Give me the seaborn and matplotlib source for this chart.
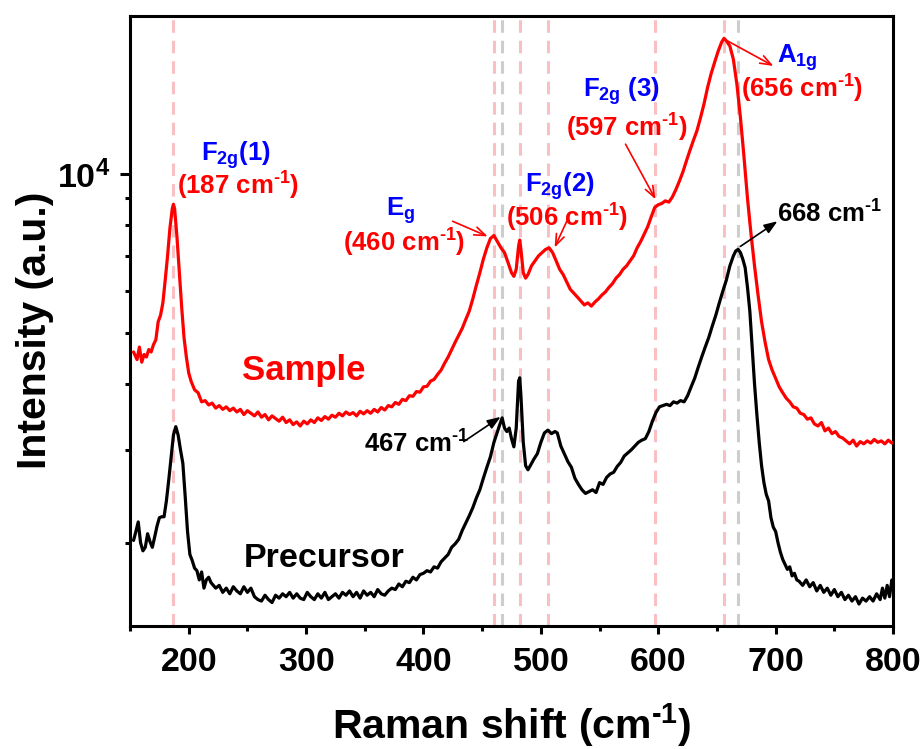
import matplotlib

matplotlib.use("Agg")

import matplotlib.pyplot as plt
import matplotlib.ticker as mticker
import pandas as pd
import seaborn as sns

# Sample spectrum (Raman shift in cm-1, intensity in a.u.)
sample_x = [
    153, 156, 158, 160, 162, 164, 166, 168, 170, 172, 174, 176, 178, 180, 182, 184, 186, 187, 188, 190,
    192, 194, 196, 198, 200, 202, 205, 208, 211, 214, 217, 220, 223, 226, 229, 232, 235, 238, 241, 244,
    247, 250, 253, 256, 259, 262, 265, 268, 271, 274, 277, 280, 283, 286, 289, 292, 295, 298, 301, 304,
    307, 310, 313, 316, 319, 322, 325, 328, 331, 334, 337, 340, 343, 346, 349, 352, 355, 358, 361, 364,
    367, 370, 373, 376, 379, 382, 385, 388, 391, 394, 397, 400, 403, 406, 409, 412, 415, 418, 421, 424,
    427, 430, 433, 436, 439, 442, 445, 448, 451, 454, 457, 460, 463, 466, 469, 472, 475, 477, 479, 481,
    482, 483, 485, 487, 489, 492, 495, 498, 501, 504, 507, 510, 513, 516, 519, 522, 525, 528, 531, 534,
    537, 540, 543, 546, 549, 552, 555, 558, 561, 564, 567, 570, 573, 576, 579, 582, 585, 588, 591, 594,
    597, 600, 603, 606, 609, 612, 615, 618, 621, 624, 627, 630, 633, 636, 639, 642, 645, 648, 651, 654,
    656, 658, 661, 664, 667, 670, 673, 676, 679, 682, 685, 688, 691, 694, 697, 700, 703, 706, 709, 712,
    715, 718, 721, 724, 727, 730, 733, 736, 739, 742, 745, 748, 751, 754, 757, 760, 763, 766, 769, 772,
    775, 778, 781, 784, 787, 790, 793, 796, 799, 800,
]
sample_y = [
    4600, 4450, 4700, 4400, 4550, 4500, 4650, 4600, 4750, 4850, 5250, 5400, 5700, 6300, 7000, 7900, 8600, 8770, 8600, 7600,
    6500, 5600, 4900, 4500, 4200, 4050, 3900, 3850, 3700, 3720, 3650, 3680, 3600, 3640, 3580, 3620, 3560, 3600, 3540, 3580,
    3500, 3560, 3520, 3480, 3540, 3460, 3500, 3420, 3480, 3440, 3400, 3460, 3380, 3420, 3350, 3390, 3330, 3400, 3360, 3420,
    3380, 3450, 3410, 3470, 3430, 3490, 3460, 3520, 3480, 3540, 3500, 3530, 3480, 3550, 3510, 3560, 3520, 3580, 3540, 3610,
    3570, 3640, 3620, 3690, 3660, 3740, 3720, 3800, 3790, 3870, 3860, 3950, 3960, 4050, 4080, 4170, 4250, 4380, 4500, 4650,
    4800, 4950, 5100, 5300, 5500, 5800, 6150, 6500, 6900, 7250, 7550, 7650, 7450, 7250, 7100, 6800, 6500, 6400, 6600, 7300,
    7500, 7200, 6500, 6350, 6450, 6700, 6850, 7000, 7100, 7200, 7250, 7100, 6850, 6600, 6450, 6250, 6050, 5950, 5850, 5750,
    5650, 5700, 5620, 5720, 5800, 5900, 5980, 6100, 6200, 6350, 6450, 6600, 6700, 6850, 7000, 7250, 7450, 7700, 7950, 8300,
    8650, 8750, 8800, 8900, 8850, 9050, 9350, 9700, 10100, 10600, 11100, 11600, 12100, 12800, 13600, 14600, 15500, 16300, 17100, 17800,
    18100, 17900, 17500, 16500, 14800, 12800, 10800, 9000, 7700, 6700, 5900, 5250, 4800, 4450, 4250, 4100, 3950, 3850, 3760, 3700,
    3620, 3600, 3520, 3500, 3430, 3450, 3360, 3330, 3380, 3260, 3300, 3220, 3250, 3180, 3160, 3120, 3080, 3130, 3050, 3110,
    3080, 3120, 3090, 3140, 3100, 3120, 3080, 3130, 3090, 3100,
]

# Precursor spectrum
precursor_x = [
    153, 155, 157, 159, 161, 163, 165, 167, 169, 171, 173, 175, 177, 179, 181, 183, 185, 187, 189, 191,
    193, 195, 197, 199, 201, 203, 205, 207, 209, 211, 213, 215, 217, 219, 221, 223, 226, 229, 232, 235,
    238, 241, 244, 247, 250, 253, 256, 259, 262, 265, 268, 271, 274, 277, 280, 283, 286, 289, 292, 295,
    298, 301, 304, 307, 310, 313, 316, 319, 322, 325, 328, 331, 334, 337, 340, 343, 346, 349, 352, 355,
    358, 361, 364, 367, 370, 373, 376, 379, 382, 385, 388, 391, 394, 397, 400, 403, 406, 409, 412, 415,
    418, 421, 424, 427, 430, 433, 436, 439, 442, 445, 448, 451, 454, 457, 460, 463, 465, 467, 469, 471,
    473, 475, 477, 479, 481, 482, 483, 485, 487, 489, 491, 494, 497, 500, 503, 506, 509, 512, 514, 517,
    520, 523, 526, 529, 532, 535, 538, 541, 544, 547, 550, 553, 556, 559, 562, 565, 568, 571, 574, 577,
    580, 583, 586, 589, 592, 595, 598, 601, 604, 607, 610, 613, 616, 619, 622, 625, 628, 631, 634, 637,
    640, 643, 646, 649, 652, 655, 658, 661, 664, 666, 668, 670, 672, 674, 676, 678, 680, 682, 684, 686,
    688, 690, 692, 694, 696, 698, 700, 702, 704, 706, 708, 710, 712, 714, 716, 718, 720, 723, 726, 729,
    732, 735, 738, 741, 744, 747, 750, 753, 756, 759, 762, 765, 768, 771, 774, 777, 780, 783, 786, 789,
    791, 793, 795, 797, 799, 800,
]
precursor_y = [
    2020, 2100, 2190, 2000, 1930, 1960, 2080, 2010, 1960, 2050, 2150, 2230, 2240, 2240, 2400, 2630, 2900, 3200, 3320, 3200,
    3000, 2830, 2450, 2100, 1900, 1850, 1790, 1770, 1700, 1760, 1640, 1700, 1720, 1680, 1660, 1640, 1660, 1610, 1640, 1600,
    1650, 1620, 1600, 1650, 1610, 1640, 1580, 1560, 1550, 1590, 1560, 1540, 1590, 1570, 1600, 1580, 1610, 1570, 1600, 1570,
    1560, 1610, 1580, 1560, 1600, 1570, 1610, 1560, 1580, 1600, 1570, 1610, 1590, 1620, 1580, 1610, 1570, 1620, 1590, 1610,
    1580, 1630, 1600, 1590, 1620, 1640, 1630, 1670, 1650, 1690, 1680, 1720, 1700, 1740, 1750, 1770, 1760, 1800, 1790, 1840,
    1870, 1900, 1960, 1990, 2030, 2110, 2180, 2250, 2330, 2430, 2520, 2650, 2780, 2910, 3100, 3250, 3350, 3450, 3300, 3250,
    3300, 3150, 3040, 3300, 4050, 4110, 3800, 3100, 2800, 2750, 2800, 2880, 2950, 3100, 3230, 3270, 3220, 3250, 3230, 3050,
    2950, 2850, 2780, 2650, 2580, 2520, 2480, 2500, 2520, 2490, 2600, 2580, 2660, 2700, 2720, 2790, 2840, 2920, 2960, 3000,
    3050, 3100, 3130, 3150, 3250, 3400, 3530, 3620, 3640, 3660, 3640, 3700, 3680, 3720, 3700, 3800, 3950, 4100, 4300, 4500,
    4700, 4900, 5150, 5400, 5700, 6000, 6300, 6700, 7000, 7150, 7200, 7100, 6900, 6650, 6100, 5500, 4700, 4000, 3500, 3100,
    2800, 2600, 2470, 2400, 2230, 2140, 2100, 2000, 1920, 1860, 1820, 1780, 1800, 1730, 1750, 1700, 1690, 1660, 1700, 1650,
    1680, 1620, 1660, 1610, 1640, 1590, 1630, 1580, 1610, 1560, 1590, 1550, 1580, 1530, 1570, 1550, 1580, 1550, 1600, 1560,
    1640, 1570, 1660, 1580, 1700, 1640,
]

# Reference peak positions (dashed guide lines)
sample_peaks = [187, 460, 482, 506, 597, 656]
precursor_peaks = [467, 668]

sns.set_style("ticks")
plt.rcParams["font.family"] = ["Liberation Sans", "DejaVu Sans"]
plt.rcParams["font.weight"] = "bold"
plt.rcParams["mathtext.fontset"] = "custom"
plt.rcParams["mathtext.rm"] = "Liberation Sans:bold"
plt.rcParams["mathtext.it"] = "Liberation Sans:bold"
plt.rcParams["mathtext.bf"] = "Liberation Sans:bold"
plt.rcParams["mathtext.default"] = "regular"
for key in ["text.color", "axes.labelcolor", "xtick.color", "ytick.color", "axes.edgecolor"]:
    plt.rcParams[key] = "black"

RED = "#ff0000"
BLUE = "#0000ff"
PINK = "#f8c0c2"
GREY = "#cdcdcd"
SUP = "$^{\\text{-}1}$"

fig = plt.figure(figsize=(9.24, 7.49), dpi=100)
ax = fig.add_axes([0.1407, 0.1642, 0.8258, 0.8144])

for p in sample_peaks:
    ax.axvline(p, color=PINK, lw=2.2, dashes=(4.1, 2.6), zorder=1)
for p in precursor_peaks:
    ax.axvline(p, color=GREY, lw=2.2, dashes=(4.1, 2.6), zorder=1)

sample = pd.DataFrame({"shift": sample_x, "intensity": sample_y})
precursor = pd.DataFrame({"shift": precursor_x, "intensity": precursor_y})
sns.lineplot(data=sample, x="shift", y="intensity", color=RED, lw=2.3, ax=ax, zorder=3)
sns.lineplot(data=precursor, x="shift", y="intensity", color="black", lw=2.3, ax=ax, zorder=3)

ax.set_yscale("log")
ax.set_xlim(150, 800)
ax.set_ylim(1390, 19950)
ax.yaxis.set_major_locator(mticker.FixedLocator([1e4]))
ax.yaxis.set_major_formatter(mticker.LogFormatterSciNotation())
ax.yaxis.set_minor_locator(mticker.LogLocator(base=10, subs=range(2, 10)))
ax.yaxis.set_minor_formatter(mticker.NullFormatter())
ax.xaxis.set_major_locator(mticker.MultipleLocator(100))
ax.xaxis.set_minor_locator(mticker.MultipleLocator(50))

for side in ["left", "right", "top", "bottom"]:
    ax.spines[side].set_linewidth(2.2)
ax.tick_params(axis="x", which="major", direction="out", length=5.8, width=2.2, pad=9, labelsize=24.5)
ax.tick_params(axis="x", which="minor", direction="out", length=3.6, width=2.2)
ax.tick_params(axis="y", which="major", direction="out", length=7, width=2.2, pad=7, labelsize=24.5)
ax.tick_params(axis="y", which="minor", direction="out", length=3.6, width=2.2)

ax.set_xlabel("Raman shift (cm" + SUP + ")", fontsize=29.5, fontweight="bold")
ax.set_ylabel("Intensity (a.u.)", fontsize=29.5, fontweight="bold")
ax.xaxis.set_label_coords(0.5, -0.124)
ax.yaxis.set_label_coords(-0.100, 0.484)

# Peak labels: mode in blue, position in red
labels = [
    ("F$_{2g}$(1)", BLUE, 0.139, 0.762),
    ("(187 cm" + SUP + ")", RED, 0.1415, 0.7066),
    ("E$_g$", BLUE, 0.354, 0.672),
    ("(460 cm" + SUP + ")", RED, 0.359, 0.613),
    ("F$_{2g}$(2)", BLUE, 0.5636, 0.712),
    ("(506 cm" + SUP + ")", RED, 0.5727, 0.654),
    ("F$_{2g}$ (3)", BLUE, 0.6435, 0.8676),
    ("(597 cm" + SUP + ")", RED, 0.6514, 0.8016),
    ("A$_{1g}$", BLUE, 0.874, 0.923),
    ("(656 cm" + SUP + ")", RED, 0.8807, 0.8656),
    ("668 cm" + SUP, "black", 0.9174, 0.6607),
    ("467 cm" + SUP, "black", 0.376, 0.2836),
]
for text, color, fx, fy in labels:
    ax.text(fx, fy, text, color=color, fontsize=18.5, fontweight="bold",
            ha="center", va="baseline", transform=ax.transAxes, zorder=5)

ax.text(0.228, 0.404, "Sample", color=RED, fontsize=25, fontweight="bold",
        ha="center", va="baseline", transform=ax.transAxes)
ax.text(0.255, 0.097, "Precursor", color="black", fontsize=24.5, fontweight="bold",
        ha="center", va="baseline", transform=ax.transAxes)

# Arrows: (tail, head) in data coordinates
arrows = [
    ((424.9, 8140), (454.7, 7620), RED, "->"),
    ((522.8, 8210), (511.7, 7260), RED, "->"),
    ((572.1, 11400), (597.7, 8960), RED, "->"),
    ((658.9, 17900), (698.1, 16040), RED, "->"),
    ((670.0, 7295), (701.5, 8140), "black", "-|>"),
    ((434.3, 3110), (465.7, 3465), "black", "-|>"),
]
for tail, head, color, style in arrows:
    ax.annotate("", xy=head, xytext=tail,
                arrowprops=dict(arrowstyle=f"{style},head_length=0.8,head_width=0.3",
                                color=color, lw=1.2, shrinkA=0, shrinkB=0),
                zorder=6)

fig.savefig("out.png", dpi=100)
